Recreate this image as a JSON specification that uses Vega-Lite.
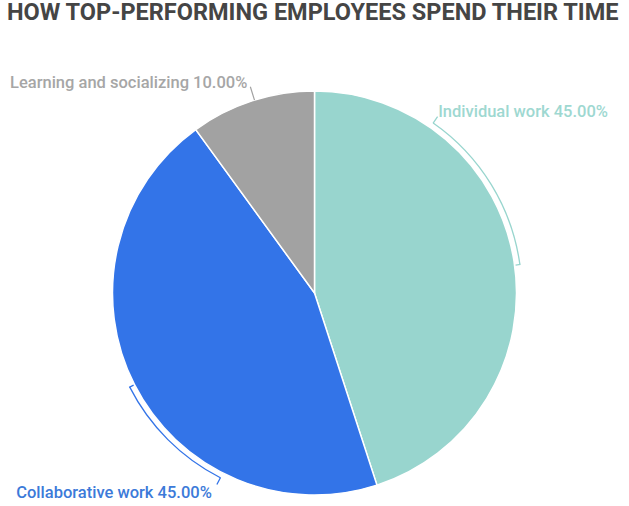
{
  "$schema": "https://vega.github.io/schema/vega-lite/v6.json",
  "width": 629,
  "height": 426,
  "autosize": "none",
  "padding": {"top": 80, "left": 0, "right": 0, "bottom": 0},
  "background": "white",
  "config": {"view": {"stroke": null}, "font": "Roboto"},
  "title": {
    "text": "HOW TOP-PERFORMING EMPLOYEES SPEND THEIR TIME",
    "anchor": "start",
    "frame": "group",
    "dx": 7,
    "offset": 31,
    "baseline": "alphabetic",
    "font": "Roboto",
    "fontSize": 23.5,
    "fontWeight": "bold",
    "color": "#454545"
  },
  "datasets": {
    "slices": [
      {"category": "Individual work", "value": 45, "order": 1},
      {"category": "Collaborative work", "value": 45, "order": 2},
      {"category": "Learning and socializing", "value": 10, "order": 3}
    ],
    "brackets": [
      {"category": "Individual work", "start": 9.7, "end": 22.8},
      {"category": "Collaborative work", "start": 57.5, "end": 67.5}
    ],
    "innerTicks": [
      {"category": "Individual work", "at": 22.8},
      {"category": "Collaborative work", "at": 67.5}
    ],
    "leaders": [
      {"category": "Individual work", "at": 9.7},
      {"category": "Collaborative work", "at": 57.5}
    ],
    "labels": [
      {"category": "Individual work", "label": "Individual work 45.00%", "at": 9.75},
      {"category": "Collaborative work", "label": "Collaborative work 45.00%", "at": 57.4},
      {"category": "Learning and socializing", "label": "Learning and socializing 10.00%", "at": 94.97}
    ],
    "learningLeader": [
      {"category": "Learning and socializing", "at": 95.2}
    ]
  },
  "layer": [
    {
      "data": {"name": "slices"},
      "mark": {"type": "arc", "radius": 202, "stroke": "white", "strokeWidth": 1.5},
      "encoding": {
        "theta": {"field": "value", "type": "quantitative", "stack": true, "scale": {"domain": [0, 100], "range": [0, 6.283185307]}},
        "order": {"field": "order", "type": "quantitative"},
        "color": {
          "field": "category", "type": "nominal", "legend": null,
          "scale": {"domain": ["Individual work", "Collaborative work", "Learning and socializing"], "range": ["#98d5ce", "#3374e8", "#a2a2a2"]}
        }
      }
    },
    {
      "data": {"name": "brackets"},
      "mark": {"type": "arc", "radius": 208, "radius2": 206.7},
      "encoding": {
        "theta": {"field": "start", "type": "quantitative", "scale": {"domain": [0, 100], "range": [0, 6.283185307]}},
        "theta2": {"field": "end"},
        "color": {"field": "category", "type": "nominal", "legend": null}
      }
    },
    {
      "data": {"name": "innerTicks"},
      "mark": {"type": "arc", "radius": 208, "radius2": 203, "strokeWidth": 1.3, "filled": false},
      "encoding": {
        "theta": {"field": "at", "type": "quantitative", "scale": {"domain": [0, 100], "range": [0, 6.283185307]}},
        "theta2": {"field": "at"},
        "stroke": {"field": "category", "type": "nominal", "legend": null, "scale": {"domain": ["Individual work", "Collaborative work", "Learning and socializing"], "range": ["#98d5ce", "#3374e8", "#a2a2a2"]}}
      }
    },
    {
      "data": {"name": "leaders"},
      "mark": {"type": "arc", "radius": 215, "radius2": 207, "strokeWidth": 1.3, "filled": false},
      "encoding": {
        "theta": {"field": "at", "type": "quantitative", "scale": {"domain": [0, 100], "range": [0, 6.283185307]}},
        "theta2": {"field": "at"},
        "stroke": {"field": "category", "type": "nominal", "legend": null}
      }
    },
    {
      "data": {"name": "learningLeader"},
      "mark": {"type": "arc", "radius": 216, "radius2": 202, "strokeWidth": 1.2, "filled": false},
      "encoding": {
        "theta": {"field": "at", "type": "quantitative", "scale": {"domain": [0, 100], "range": [0, 6.283185307]}},
        "theta2": {"field": "at"},
        "stroke": {"field": "category", "type": "nominal", "legend": null}
      }
    },
    {
      "data": {"name": "labels"},
      "transform": [{"filter": "datum.category === 'Individual work'"}],
      "mark": {"type": "text", "radius": 215, "align": "left", "baseline": "alphabetic", "fontSize": 16.5, "fontWeight": 500, "font": "Roboto", "color": "#9ed8d1"},
      "encoding": {
        "theta": {"field": "at", "type": "quantitative", "scale": {"domain": [0, 100], "range": [0, 6.283185307]}},
        "text": {"field": "label"}
      }
    },
    {
      "data": {"name": "labels"},
      "transform": [{"filter": "datum.category === 'Learning and socializing'"}],
      "mark": {"type": "text", "radius": 216, "align": "right", "baseline": "alphabetic", "fontSize": 16.5, "fontWeight": 500, "font": "Roboto", "color": "#a6a6a6"},
      "encoding": {
        "theta": {"field": "at", "type": "quantitative", "scale": {"domain": [0, 100], "range": [0, 6.283185307]}},
        "text": {"field": "label"}
      }
    },
    {
      "data": {"name": "labels"},
      "transform": [{"filter": "datum.category === 'Collaborative work'"}],
      "mark": {"type": "text", "radius": 229, "align": "right", "baseline": "alphabetic", "fontSize": 16.5, "fontWeight": 500, "font": "Roboto", "color": "#3c7ad9"},
      "encoding": {
        "theta": {"field": "at", "type": "quantitative", "scale": {"domain": [0, 100], "range": [0, 6.283185307]}},
        "text": {"field": "label"}
      }
    }
  ]
}
